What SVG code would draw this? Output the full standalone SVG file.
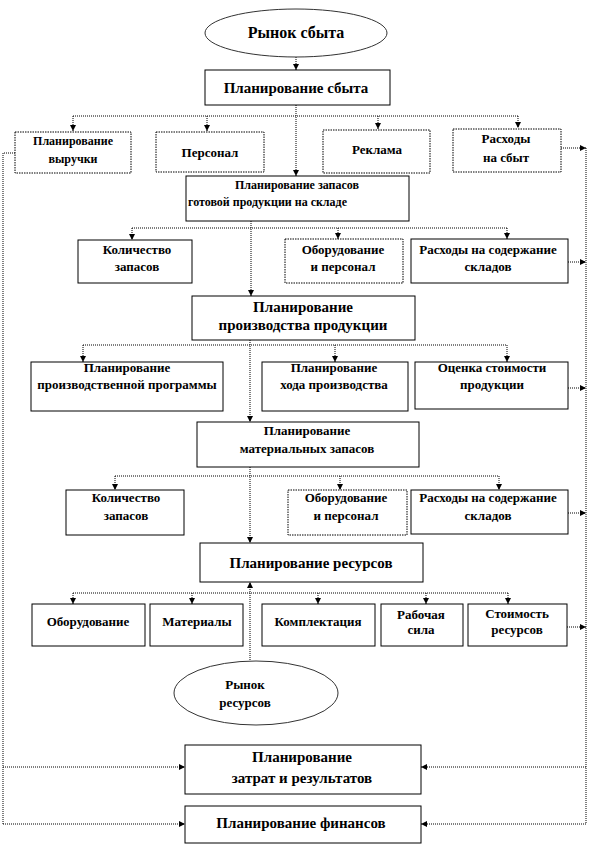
<svg xmlns="http://www.w3.org/2000/svg" width="598" height="846" viewBox="0 0 598 846">
<style>
.b{fill:#fff;stroke:#000;stroke-width:1}
.d{fill:#fff;stroke:#000;stroke-width:1;stroke-dasharray:1.5 1}
.e{fill:#fff;stroke:#333;stroke-width:1}
text{font-family:"Liberation Serif","Times New Roman",serif;font-weight:bold;fill:#000;text-anchor:middle;font-size:13px}
.s12{font-size:12px}
.s15{font-size:15px}
.s16{font-size:16px}
.c{fill:none;stroke:#000;stroke-width:1;stroke-dasharray:1 1}
</style>
<defs>
<marker id="ah" viewBox="0 0 8 8" refX="8" refY="4" markerWidth="6" markerHeight="6" orient="auto">
<path d="M0,0 L8,4 L0,8 z" fill="#000"/>
</marker>
</defs>
<rect width="598" height="846" fill="#fff"/>

<g id="connectors">
<path class="c" d="M296,57 V70" marker-end="url(#ah)"/>
<path class="c" d="M296,105 V176" marker-end="url(#ah)"/>
<path class="c" d="M73,116 H518"/>
<path class="c" d="M73,116 V131" marker-end="url(#ah)"/>
<path class="c" d="M207,116 V131" marker-end="url(#ah)"/>
<path class="c" d="M378,116 V129" marker-end="url(#ah)"/>
<path class="c" d="M518,116 V128" marker-end="url(#ah)"/>
<path class="c" d="M15,153 H3 V824"/>
<path class="c" d="M3,767 H185" marker-end="url(#ah)"/>
<path class="c" d="M3,824 H185" marker-end="url(#ah)"/>
<path class="c" d="M586,148 V824"/>
<path class="c" d="M561,148 H586" marker-end="url(#ah)"/>
<path class="c" d="M568,262 H586" marker-end="url(#ah)"/>
<path class="c" d="M568,388 H586" marker-end="url(#ah)"/>
<path class="c" d="M568,513 H586" marker-end="url(#ah)"/>
<path class="c" d="M567,627 H586" marker-end="url(#ah)"/>
<path class="c" d="M586,767 H421" marker-end="url(#ah)"/>
<path class="c" d="M586,824 H421" marker-end="url(#ah)"/>
<path class="c" d="M251,221 V296" marker-end="url(#ah)"/>
<path class="c" d="M132,228 H507"/>
<path class="c" d="M132,228 V240" marker-end="url(#ah)"/>
<path class="c" d="M338,228 V239" marker-end="url(#ah)"/>
<path class="c" d="M507,228 V239" marker-end="url(#ah)"/>
<path class="c" d="M250,340 V422" marker-end="url(#ah)"/>
<path class="c" d="M83,345 H507"/>
<path class="c" d="M83,345 V362" marker-end="url(#ah)"/>
<path class="c" d="M335,345 V362" marker-end="url(#ah)"/>
<path class="c" d="M507,345 V362" marker-end="url(#ah)"/>
<path class="c" d="M250,467 V543" marker-end="url(#ah)"/>
<path class="c" d="M115,476 H499"/>
<path class="c" d="M115,476 V490" marker-end="url(#ah)"/>
<path class="c" d="M340,476 V490" marker-end="url(#ah)"/>
<path class="c" d="M499,476 V490" marker-end="url(#ah)"/>
<path class="c" d="M250,660 V582" marker-end="url(#ah)"/>
<path class="c" d="M73,593 H508"/>
<path class="c" d="M73,593 V604" marker-end="url(#ah)"/>
<path class="c" d="M192,593 V604" marker-end="url(#ah)"/>
<path class="c" d="M318,593 V604" marker-end="url(#ah)"/>
<path class="c" d="M426,593 V604" marker-end="url(#ah)"/>
<path class="c" d="M508,593 V604" marker-end="url(#ah)"/>
</g>

<g id="rynok-sbyta"><ellipse class="e" cx="296" cy="33" rx="91" ry="24"/><text class="s16" x="296" y="38">Рынок сбыта</text></g>
<g id="plan-sbyta"><rect class="b" x="205" y="70" width="185" height="35"/><text class="s15" x="296" y="93">Планирование сбыта</text></g>

<g id="plan-vyruchki"><rect class="d" x="15" y="132" width="116" height="41"/><text class="s12" x="73" y="145">Планирование</text><text class="s12" x="73" y="163">выручки</text></g>
<g id="personal"><rect class="d" x="156" y="132" width="108" height="40"/><text x="210" y="157">Персонал</text></g>
<g id="reklama"><rect class="d" x="323" y="130" width="107" height="43"/><text x="377" y="154">Реклама</text></g>
<g id="rashody-sbyt"><rect class="d" x="453" y="129" width="108" height="43"/><text x="506" y="143">Расходы</text><text x="506" y="162">на сбыт</text></g>

<g id="plan-zapasov"><rect class="b" x="186" y="176" width="223" height="45"/><text class="s12" x="297" y="189">Планирование  запасов</text><text class="s12" x="188" y="206" style="text-anchor:start">готовой продукции на  складе</text></g>

<g id="kol-zapasov-1"><rect class="b" x="78" y="240" width="114" height="43"/><text x="137" y="254">Количество</text><text x="137" y="271">запасов</text></g>
<g id="oborud-1"><rect class="d" x="285" y="239" width="118" height="44"/><text x="343" y="254">Оборудование</text><text x="343" y="271">и персонал</text></g>
<g id="rashody-sklad-1"><rect class="b" x="411" y="239" width="157" height="44"/><text x="488" y="254">Расходы  на содержание</text><text x="488" y="271">складов</text></g>

<g id="plan-proizv"><rect class="b" x="192" y="296" width="223" height="44"/><text class="s15" x="303" y="312">Планирование</text><text class="s15" x="303" y="330">производства продукции</text></g>

<g id="plan-programmy"><rect class="b" x="31" y="362" width="192" height="49"/><text x="127" y="372">Планирование</text><text x="127" y="389">производственной  программы</text></g>
<g id="plan-hoda"><rect class="b" x="262" y="362" width="146" height="49"/><text x="334" y="372">Планирование</text><text x="334" y="389">хода  производства</text></g>
<g id="ocenka"><rect class="b" x="415" y="362" width="153" height="47"/><text x="492" y="372">Оценка  стоимости</text><text x="492" y="389">продукции</text></g>

<g id="plan-mater"><rect class="b" x="197" y="422" width="222" height="45"/><text x="307" y="435">Планирование</text><text x="307" y="453">материальных  запасов</text></g>

<g id="kol-zapasov-2"><rect class="b" x="66" y="490" width="118" height="45"/><text x="126" y="502">Количество</text><text x="126" y="520">запасов</text></g>
<g id="oborud-2"><rect class="d" x="288" y="490" width="119" height="45"/><text x="346" y="502">Оборудование</text><text x="346" y="520">и персонал</text></g>
<g id="rashody-sklad-2"><rect class="b" x="411" y="490" width="157" height="44"/><text x="488" y="502">Расходы  на содержание</text><text x="488" y="520">складов</text></g>

<g id="plan-resursov"><rect class="b" x="200" y="543" width="223" height="39"/><text class="s15" x="311" y="568">Планирование ресурсов</text></g>

<g id="oborudovanie"><rect class="b" x="32" y="604" width="113" height="42"/><text x="88" y="626">Оборудование</text></g>
<g id="materialy"><rect class="b" x="150" y="604" width="93" height="42"/><text x="197" y="626">Материалы</text></g>
<g id="komplektaciya"><rect class="b" x="262" y="604" width="113" height="42"/><text x="318" y="626">Комплектация</text></g>
<g id="rabochaya-sila"><rect class="b" x="381" y="604" width="82" height="42"/><text x="421" y="619">Рабочая</text><text x="421" y="634">сила</text></g>
<g id="stoimost"><rect class="b" x="468" y="604" width="99" height="42"/><text x="517" y="618">Стоимость</text><text x="517" y="634">ресурсов</text></g>

<g id="rynok-resursov"><ellipse class="e" cx="256" cy="693" rx="82" ry="32"/><text x="245" y="689">Рынок</text><text x="245" y="707">ресурсов</text></g>

<g id="plan-zatrat"><rect class="b" x="185" y="745" width="236" height="49"/><text class="s15" x="302" y="762">Планирование</text><text class="s15" x="302" y="783">затрат и результатов</text></g>
<g id="plan-finansov"><rect class="b" x="185" y="806" width="236" height="37"/><text class="s15" x="301" y="828">Планирование финансов</text></g>
</svg>
